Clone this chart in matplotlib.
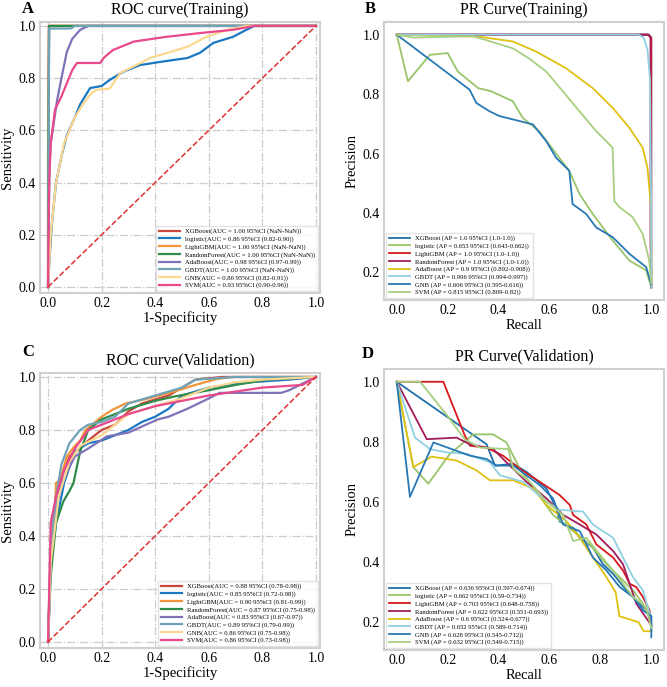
import matplotlib
matplotlib.use('Agg')
import matplotlib.pyplot as plt

plt.rcParams['font.family'] = ['Liberation Serif', 'DejaVu Serif']

models = ['XGBoost', 'logistic', 'LightGBM', 'RandomForest', 'AdaBoost', 'GBDT', 'GNB', 'SVM']

# ---- ROC training ----
roc_tr_auc = ['1.00', '0.86', '1.00', '1.00', '0.98', '1.00', '0.86', '0.93']
roc_tr_ci = ['NaN-NaN', '0.82-0.90', 'NaN-NaN', 'NaN-NaN', '0.97-0.99', 'NaN-NaN', '0.82-0.91', '0.90-0.96']
roc_tr_fpr = [
    [0, 0, 0.003, 1],
    [0, 0.005, 0.015, 0.03, 0.05, 0.07, 0.1, 0.12, 0.157, 0.2, 0.23, 0.28, 0.343, 0.418, 0.52, 0.567, 0.617, 0.69, 0.74, 0.77, 1],
    [0, 0, 0.004, 1],
    [0, 0.002, 0.004, 1],
    [0, 0.003, 0.005, 0.01, 0.02, 0.034, 0.05, 0.07, 0.09, 0.12, 0.15, 1],
    [0, 0.002, 0.004, 0.085, 0.1, 1],
    [0, 0.005, 0.01, 0.03, 0.06, 0.1, 0.13, 0.16, 0.18, 0.23, 0.27, 0.32, 0.38, 0.44, 0.52, 0.59, 0.67, 0.74, 1],
    [0, 0.003, 0.005, 0.01, 0.02, 0.026, 0.05, 0.07, 0.09, 0.108, 0.194, 0.21, 0.243, 0.32, 0.44, 0.57, 0.69, 0.77, 1],
]
roc_tr_tpr = [
    [0, 0.3, 1.0, 1],
    [0, 0.1, 0.25, 0.4, 0.5, 0.58, 0.65, 0.7, 0.762, 0.77, 0.793, 0.824, 0.85, 0.862, 0.877, 0.897, 0.935, 0.958, 0.985, 1.0, 1],
    [0, 0.5, 1.0, 1],
    [0, 0.6, 1.0, 1],
    [0, 0.3, 0.45, 0.55, 0.62, 0.716, 0.8, 0.9, 0.95, 0.985, 1.0, 1],
    [0, 0.5, 0.99, 0.99, 1.0, 1],
    [0, 0.1, 0.2, 0.4, 0.55, 0.65, 0.7, 0.74, 0.755, 0.76, 0.82, 0.845, 0.877, 0.895, 0.92, 0.958, 0.985, 1.0, 1],
    [0, 0.3, 0.42, 0.55, 0.63, 0.68, 0.73, 0.78, 0.83, 0.858, 0.858, 0.88, 0.908, 0.94, 0.958, 0.973, 0.985, 1.0, 1],
]

# ---- ROC validation ----
roc_va_auc = ['0.88', '0.85', '0.90', '0.87', '0.83', '0.89', '0.86', '0.86']
roc_va_ci = ['0.78-0.98', '0.72-0.98', '0.81-0.99', '0.75-0.98', '0.67-0.97', '0.79-0.99', '0.75-0.98', '0.73-0.98']
roc_va_fpr = [
    [0, 0.01, 0.03, 0.05, 0.08, 0.12, 0.15, 0.2, 0.25, 0.3, 0.35, 0.45, 0.5, 0.55, 0.65, 1],
    [0, 0.01, 0.03, 0.06, 0.1, 0.15, 0.2, 0.25, 0.3, 0.35, 0.4, 0.45, 0.5, 0.6, 0.75, 0.9, 1],
    [0, 0.01, 0.015, 0.025, 0.03, 0.045, 0.07, 0.1, 0.12, 0.14, 0.2, 0.24, 0.29, 0.38, 0.47, 0.55, 0.62, 0.68, 1],
    [0, 0.01, 0.03, 0.057, 0.08, 0.095, 0.12, 0.15, 0.2, 0.3, 0.4, 0.47, 0.6, 0.7, 0.82, 1],
    [0, 0.01, 0.02, 0.05, 0.1, 0.15, 0.22, 0.3, 0.41, 0.45, 0.52, 0.59, 0.64, 0.87, 0.9, 0.98, 1],
    [0, 0.01, 0.03, 0.05, 0.08, 0.12, 0.15, 0.2, 0.25, 0.3, 0.4, 0.5, 0.55, 0.7, 1],
    [0, 0.01, 0.04, 0.08, 0.12, 0.2, 0.25, 0.3, 0.4, 0.5, 0.6, 0.7, 0.8, 1],
    [0, 0.01, 0.03, 0.06, 0.1, 0.15, 0.2, 0.3, 0.4, 0.5, 0.6, 0.8, 0.95, 1],
]
roc_va_tpr = [
    [0, 0.35, 0.5, 0.62, 0.7, 0.73, 0.76, 0.8, 0.82, 0.87, 0.9, 0.93, 0.96, 0.99, 1.0, 1],
    [0, 0.3, 0.45, 0.6, 0.72, 0.75, 0.76, 0.78, 0.8, 0.83, 0.85, 0.88, 0.93, 0.96, 0.98, 0.99, 1],
    [0, 0.3, 0.48, 0.48, 0.6, 0.61, 0.7, 0.74, 0.76, 0.8, 0.85, 0.876, 0.9, 0.92, 0.945, 0.97, 0.99, 1.0, 1],
    [0, 0.25, 0.45, 0.53, 0.57, 0.6, 0.72, 0.8, 0.84, 0.88, 0.91, 0.926, 0.95, 0.97, 0.99, 1],
    [0, 0.3, 0.45, 0.6, 0.7, 0.73, 0.776, 0.79, 0.84, 0.85, 0.88, 0.914, 0.94, 0.94, 0.95, 0.99, 1],
    [0, 0.35, 0.55, 0.67, 0.75, 0.8, 0.82, 0.83, 0.85, 0.9, 0.93, 0.96, 0.99, 1.0, 1],
    [0, 0.3, 0.55, 0.68, 0.74, 0.78, 0.82, 0.86, 0.89, 0.92, 0.96, 0.98, 0.99, 1],
    [0, 0.45, 0.55, 0.65, 0.73, 0.8, 0.82, 0.86, 0.89, 0.91, 0.93, 0.96, 0.97, 1],
]

# ---- PR training ----
pr_tr_ap = ['1.0', '0.653', '1.0', '1.0', '0.9', '0.996', '0.606', '0.815']
pr_tr_ci = ['1.0-1.0', '0.643-0.662', '1.0-1.0', '1.0-1.0', '0.892-0.908', '0.994-0.997', '0.595-0.616', '0.809-0.82']
pr_tr_rec = [
    [0, 0.99, 1.0, 1.0],
    [0, 0.044, 0.13, 0.2, 0.24, 0.32, 0.37, 0.456, 0.495, 0.56, 0.626, 0.678, 0.718, 0.77, 0.848, 0.914, 0.98, 1.0],
    [0, 0.985, 1.0, 1.0],
    [0, 0.99, 0.997, 0.997, 1.0],
    [0, 0.325, 0.456, 0.548, 0.665, 0.77, 0.848, 0.914, 0.966, 0.985, 0.999, 1.0, 1.0],
    [0, 0.95, 0.97, 0.985, 0.995, 1.0, 1.0],
    [0, 0.286, 0.313, 0.365, 0.404, 0.456, 0.535, 0.587, 0.626, 0.678, 0.691, 0.744, 0.783, 0.848, 0.914, 0.98, 1.0],
    [0, 0.064, 0.3, 0.456, 0.52, 0.587, 0.652, 0.718, 0.783, 0.848, 0.855, 0.875, 0.927, 0.966, 0.992, 1.0],
]
pr_tr_prec = [
    [1.0, 1.0, 0.99, 0.15],
    [1.0, 0.843, 0.932, 0.938, 0.876, 0.82, 0.81, 0.776, 0.72, 0.675, 0.6, 0.542, 0.464, 0.397, 0.308, 0.24, 0.207, 0.15],
    [1.0, 1.0, 0.99, 0.15],
    [1.0, 1.0, 0.99, 0.3, 0.15],
    [1.0, 0.993, 0.977, 0.943, 0.887, 0.82, 0.754, 0.687, 0.62, 0.553, 0.42, 0.263, 0.174],
    [1.0, 1.0, 0.99, 0.95, 0.85, 0.4, 0.15],
    [1.0, 0.815, 0.77, 0.742, 0.726, 0.715, 0.698, 0.642, 0.586, 0.542, 0.43, 0.397, 0.352, 0.319, 0.263, 0.218, 0.16],
    [1.0, 0.99, 0.995, 0.954, 0.92, 0.876, 0.81, 0.742, 0.676, 0.62, 0.44, 0.42, 0.386, 0.33, 0.24, 0.163],
]

# ---- PR validation ----
pr_va_ap = ['0.636', '0.662', '0.703', '0.622', '0.6', '0.652', '0.628', '0.632']
pr_va_ci = ['0.597-0.674', '0.59-0.734', '0.648-0.758', '0.551-0.693', '0.524-0.677', '0.589-0.714', '0.545-0.712', '0.549-0.715']
pr_va_rec = [
    [0, 0.353, 0.386, 0.458, 0.51, 0.588, 0.627, 0.64, 0.693, 0.719, 0.771, 0.81, 0.85, 0.902, 0.941, 0.98, 1.0, 1.0],
    [0, 0.065, 0.124, 0.209, 0.301, 0.379, 0.431, 0.484, 0.549, 0.614, 0.693, 0.758, 0.824, 0.876, 0.928, 0.967, 1.0],
    [0, 0.183, 0.268, 0.288, 0.353, 0.418, 0.484, 0.562, 0.64, 0.68, 0.693, 0.745, 0.784, 0.85, 0.889, 0.915, 0.941, 0.967, 0.98, 0.993, 1.0],
    [0, 0.118, 0.235, 0.288, 0.379, 0.431, 0.51, 0.588, 0.654, 0.719, 0.784, 0.85, 0.889, 0.915, 0.941, 0.967, 1.0],
    [0, 0.065, 0.137, 0.235, 0.314, 0.366, 0.458, 0.536, 0.588, 0.667, 0.719, 0.771, 0.824, 0.86, 0.875, 0.95, 0.97, 1.0],
    [0, 0.072, 0.131, 0.196, 0.275, 0.366, 0.405, 0.497, 0.588, 0.641, 0.732, 0.771, 0.85, 0.889, 0.928, 0.967, 1.0],
    [0, 0.052, 0.144, 0.288, 0.353, 0.392, 0.458, 0.562, 0.614, 0.654, 0.719, 0.771, 0.824, 0.876, 0.928, 0.967, 1.0, 1.0],
    [0, 0.092, 0.196, 0.268, 0.327, 0.438, 0.458, 0.523, 0.588, 0.654, 0.693, 0.745, 0.797, 0.85, 0.889, 0.928, 0.98, 1.0],
]
pr_va_prec = [
    [1.0, 0.792, 0.721, 0.727, 0.7, 0.645, 0.579, 0.535, 0.514, 0.481, 0.448, 0.393, 0.361, 0.306, 0.273, 0.24, 0.22, 0.17],
    [1.0, 0.716, 0.661, 0.76, 0.825, 0.825, 0.798, 0.71, 0.634, 0.557, 0.503, 0.459, 0.393, 0.35, 0.306, 0.262, 0.2],
    [1.0, 1.0, 0.82, 0.787, 0.781, 0.754, 0.71, 0.667, 0.623, 0.59, 0.557, 0.525, 0.459, 0.415, 0.372, 0.328, 0.317, 0.284, 0.262, 0.24, 0.19],
    [1.0, 0.809, 0.814, 0.792, 0.776, 0.732, 0.667, 0.612, 0.557, 0.525, 0.492, 0.437, 0.393, 0.328, 0.262, 0.23, 0.19],
    [1.0, 0.716, 0.751, 0.738, 0.705, 0.672, 0.672, 0.645, 0.59, 0.536, 0.481, 0.415, 0.35, 0.3, 0.22, 0.2, 0.17, 0.17],
    [1.0, 0.814, 0.776, 0.765, 0.76, 0.732, 0.689, 0.667, 0.601, 0.574, 0.568, 0.525, 0.481, 0.415, 0.35, 0.306, 0.21],
    [1.0, 0.617, 0.798, 0.754, 0.743, 0.721, 0.721, 0.656, 0.612, 0.525, 0.503, 0.415, 0.372, 0.317, 0.284, 0.24, 0.22, 0.15],
    [1.0, 1.0, 0.89, 0.808, 0.781, 0.776, 0.71, 0.667, 0.601, 0.557, 0.47, 0.481, 0.426, 0.372, 0.328, 0.284, 0.251, 0.18],
]

roc_colors = ['#c8463c', '#1a78c2', '#f0953a', '#2e8b4a', '#7f72b8', '#6fa3b8', '#fcd790', '#e9498b']
pr_colors = ['#1f70aa', '#9ac46a', '#d7191c', '#a11c5a', '#e0c010', '#8fd0e2', '#2878b5', '#a8cf80']

W, H = 667, 687
fig = plt.figure(figsize=(W / 100, H / 100), dpi=100)


def box(l, t, r, b):
    return [l / W, 1 - b / H, (r - l) / W, (b - t) / H]


def style(ax, grid):
    for s in ax.spines.values():
        s.set_color('#cfcfcf')
        s.set_linewidth(1.5)
    ax.tick_params(length=0, labelsize=10, pad=3)
    if grid:
        ax.grid(True, linestyle='-.', color='#cccccc', linewidth=0.9)
        ax.set_axisbelow(True)


def roc_panel(ax, fprs, tprs, aucs, cis, title):
    for i, m in enumerate(models):
        ax.plot(fprs[i], tprs[i], color=roc_colors[i], lw=1.6,
                label=f'{m}(AUC = {aucs[i]} 95%CI ({cis[i]}))')
    ax.plot([0, 1], [0, 1], color='#e03030', lw=1.1, linestyle='--')
    ax.set_xlim(-0.03, 1.015)
    ax.set_ylim(-0.023, 1.015)
    ax.set_xticks([0, 0.2, 0.4, 0.6, 0.8, 1.0])
    ax.set_yticks([0, 0.2, 0.4, 0.6, 0.8, 1.0])
    style(ax, True)
    ax.set_title(title, fontsize=11.5, pad=6)
    ax.set_xlabel('1-Specificity', fontsize=10.5, labelpad=1)
    ax.set_ylabel('Sensitivity', fontsize=10.5, labelpad=3)
    ax.legend(loc='lower right', fontsize=4.8, labelspacing=0.25, handlelength=3.2,
              borderaxespad=0.3, edgecolor='#dddddd', fancybox=False)


def pr_panel(ax, recs, precs, aps, cis, title):
    for i, m in enumerate(models):
        ax.plot(recs[i], precs[i], color=pr_colors[i], lw=1.3,
                label=f'{m} (AP = {aps[i]} 95%CI ({cis[i]}))')
    ax.set_xticks([0, 0.2, 0.4, 0.6, 0.8, 1.0])
    ax.set_yticks([0.2, 0.4, 0.6, 0.8, 1.0])
    style(ax, False)
    ax.set_title(title, fontsize=11.5, pad=6)
    ax.set_xlabel('Recall', fontsize=10.5, labelpad=1)
    ax.set_ylabel('Precision', fontsize=10.5, labelpad=3)
    ax.legend(loc='lower left', fontsize=4.8, labelspacing=0.25, handlelength=3.2,
              borderaxespad=0.3, edgecolor='#dddddd', fancybox=False)


axA = fig.add_axes(box(40, 22, 320, 293))
axB = fig.add_axes(box(384, 22, 664, 300))
axC = fig.add_axes(box(40, 373, 320, 648))
axD = fig.add_axes(box(384, 369, 664, 650))

roc_panel(axA, roc_tr_fpr, roc_tr_tpr, roc_tr_auc, roc_tr_ci, 'ROC curve(Training)')
pr_panel(axB, pr_tr_rec, pr_tr_prec, pr_tr_ap, pr_tr_ci, 'PR Curve(Training)')
roc_panel(axC, roc_va_fpr, roc_va_tpr, roc_va_auc, roc_va_ci, 'ROC curve(Validation)')
pr_panel(axD, pr_va_rec, pr_va_prec, pr_va_ap, pr_va_ci, 'PR Curve(Validation)')

for letter, x, y in [('A', 28, 9), ('B', 370, 9), ('C', 28, 352), ('D', 368, 354)]:
    fig.text(x / W, 1 - y / H, letter, fontsize=12, fontweight='bold', ha='center', va='center')

fig.savefig('out.png', dpi=100)
